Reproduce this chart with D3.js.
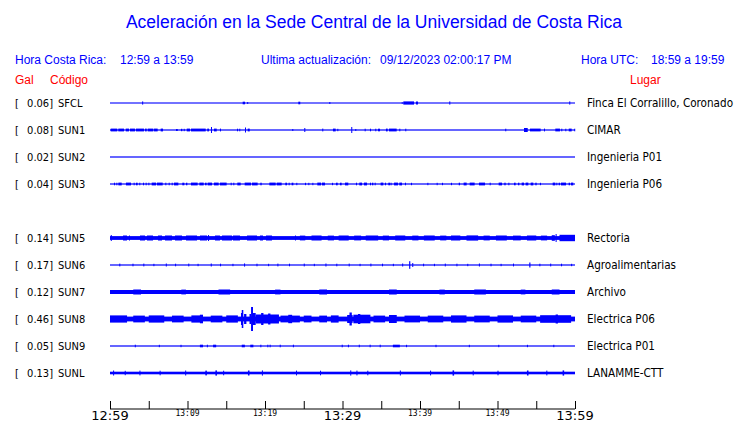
<!DOCTYPE html>
<html><head><meta charset="utf-8">
<script src="https://cdn.jsdelivr.net/npm/d3@7"></script>
<style>
body{margin:0;background:#fff;}
svg{display:block;}
</style></head>
<body>
<svg id="c" width="740" height="423"></svg>
<script>
// ---------------- DATA ----------------
const title = "Aceleración en la Sede Central de la Universidad de Costa Rica";
const horaCR = "12:59 a 13:59";
const horaUTC = "18:59 a 19:59";
const ultima = "09/12/2023 02:00:17 PM";

const codes  = ["SFCL","SUN1","SUN2","SUN3","SUN5","SUN6","SUN7","SUN8","SUN9","SUNL"];
const gal    = [0.06, 0.08, 0.02, 0.04, 0.14, 0.17, 0.12, 0.46, 0.05, 0.13];
const places = ["Finca El Corralillo, Coronado","CIMAR","Ingenieria P01","Ingenieria P06",
                "Rectoria","Agroalimentarias","Archivo","Electrica P06","Electrica P01","LANAMME-CTT"];
const slots  = [0,1,2,3,5,6,7,8,9,10];

// time axis (minutes after 12:59)
const tickMinutes = [0,5,10,15,20,25,30,35,40,45,50,55,60];
const labelMinutes = [0,10,20,30,40,50,60];
const tickLabels = ["12:59","13:09","13:19","13:29","13:39","13:49","13:59"];
const majorLabel = [true,false,false,true,false,false,true];

// continuous noise level of each trace (px half-height)
const baseAmp = [0.55, 0.6, 0.6, 0.6, 1.9, 0.6, 2.0, 2.4, 0.6, 1.3];

// bursts: [start minute, end minute, half amplitude]
const bSFCL = [[4.15,4.2,1.6],[17.12,17.42,1.3],[17.7,17.75,1],[24.3,24.55,1.3],[28.3,28.35,1],
  [37.64,37.68,0.8],[37.85,39.23,1.6],[39.48,39.74,1.5],[43.78,43.83,1.6],[59.26,59.31,1.6]];
const bSUN1 = [[0.09,0.94,1.4],[1.07,1.81,1.4],[2.03,2.45,1.4],[2.58,3.23,1.4],[3.35,4.39,1.4],
  [4.52,4.74,1.4],[4.86,5.59,1.4],[5.68,6.15,1.4],[6.54,6.84,1.4],[8.52,8.74,1],[9.16,9.33,1.2],
  [9.51,9.59,1.2],[9.9,10.32,1.4],[10.45,12.35,1.4],[12.55,12.77,1.4],[13.03,13.1,3],[13.42,13.77,1.4],
  [14.19,14.25,1.4],[16.39,16.45,1.3],[16.68,16.74,1.3],[17.42,17.48,2.5],[17.77,18.03,1.4],
  [23.52,23.57,1],[25.07,25.12,2],[27.39,27.44,1.4],[28.77,29.12,1.4],[29.33,29.38,1.2],
  [31.13,31.18,3],[31.65,31.7,1],[32.86,32.99,1.3],[33.55,33.6,1.3],[34.23,34.28,1.3],
  [34.58,34.84,1.3],[35.61,35.83,1.4],[36.0,36.99,1.4],[37.33,37.38,1.3],[38.1,38.15,1.3],
  [51.0,51.05,1.3],[53.42,53.9,2],[54.19,55.57,1.4],[56.0,56.05,1.4],[57.46,58.06,1.4],
  [58.23,58.28,1.3],[58.75,58.8,1.3],[59.19,59.57,1.4],[59.9,59.95,1.3]];
const bSUN2 = [];
const bSUN3 = [[0.52,0.65,1.3],[0.82,0.9,1.3],[1.08,1.51,1.4],[2.06,2.71,1.4],[3.05,3.18,1.3],
  [3.35,3.57,1.3],[3.78,3.87,1.3],[4.26,4.39,1.3],[4.6,4.69,1.3],[4.95,5.08,1.3],[5.38,5.94,1.4],
  [6.06,6.8,1.4],[7.14,7.27,1.3],[7.57,7.7,1.3],[7.96,8.09,1.3],[8.26,8.82,1.4],[9.33,9.59,1.3],
  [9.81,9.98,1.3],[10.45,11.31,1.4],[11.53,12.09,1.4],[12.26,12.47,1.3],[12.6,13.16,1.4],
  [13.42,14.02,1.4],[14.19,15.05,1.4],[15.57,15.7,1.3],[15.91,16.04,1.3],[16.43,16.86,1.4],
  [17.38,18.19,1.4],[18.32,19.05,1.4],[19.4,19.57,1.3],[20.56,21.38,1.4],[21.51,22.15,1.4],
  [22.62,22.84,1.3],[23.05,23.18,1.3],[23.44,23.66,1.3],[24.04,24.08,1.2],[25.16,25.2,1.2],
  [25.59,25.63,1.2],[26.11,26.15,1.2],[26.75,27.23,1.4],[27.35,27.74,1.4],[28.65,28.69,1.2],
  [29.16,29.38,1.3],[29.68,29.89,1.3],[30.32,30.75,1.4],[31.74,31.87,1.3],[32.17,32.52,1.4],
  [32.77,33.16,1.4],[33.55,33.68,1.3],[33.81,33.98,1.3],[34.15,34.28,1.3],[34.92,35.27,1.4],
  [35.48,35.57,1.3],[35.91,36.13,1.3],[36.2,36.24,1.3],[36.65,37.16,1.4],[37.33,37.68,1.4],
  [38.06,38.15,1.3],[38.84,38.88,1.2],[40.95,40.99,1.2],[42.15,42.19,1.2],[42.84,42.88,1.2],
  [44.0,44.04,1.2],[45.0,45.16,1.3],[45.63,46.02,1.4],[46.41,47.05,1.4],[47.61,48.39,1.4],
  [48.99,49.12,1.3],[50.15,50.58,1.4],[50.88,51.05,1.3],[51.4,51.53,1.3],[52.13,52.34,1.3],
  [52.65,52.82,1.3],[53.12,53.42,1.4],[53.63,53.98,1.4],[54.28,54.62,1.4],[54.88,55.05,1.3],
  [55.48,55.52,1.2],[57.12,57.46,1.4],[57.59,57.72,1.3],[57.89,58.06,1.3],[58.19,58.84,1.4],
  [59.18,59.35,1.3],[59.48,59.78,1.4]];
const bSUN5 = [[0.1,0.2,3],[1.68,2.19,2.5],[2.45,2.5,2.5],[3.87,4.52,2.5],[4.77,5.55,2.5],
  [6.19,6.71,2.5],[7.1,8.0,2.5],[8.39,9.29,2.5],[9.81,11.23,2.5],[11.61,12.52,2.5],[12.65,12.7,3],
  [13.55,14.19,2.5],[14.45,15.74,2.5],[15.87,16.77,2.5],[17.68,18.97,2.5],[19.35,19.74,2.5],
  [20.13,20.9,2.5],[23.87,23.92,2.5],[24.5,25.2,2.4],[26.0,27.3,2.5],[28.1,28.9,2.4],[29.5,30.8,2.5],
  [31.5,32.4,2.4],[33.0,34.6,2.5],[35.2,36.0,2.4],[36.8,38.1,2.5],[39.0,39.8,2.4],[40.5,41.9,2.5],
  [42.6,43.4,2.4],[44.0,45.2,2.5],[46.0,47.5,2.6],[48.2,49.0,2.4],[49.8,51.2,2.5],[52.0,53.0,2.4],
  [53.8,55.0,2.5],[55.6,56.4,2.4],[57.0,57.4,2.8],[57.5,57.6,4],[58.0,60,3.2]];
const bSUN6 = [[1.2,1.25,1.4],[2.9,2.95,1.3],[4.3,4.35,1.4],[5.6,5.65,1.2],[7.2,7.3,1.5],[8.4,8.45,1.3],
  [10.1,10.2,1.4],[11.3,11.35,1.2],[13.0,13.1,1.5],[14.2,14.25,1.3],[15.8,15.85,1.2],[17.3,17.4,1.6],
  [18.9,18.95,1.3],[20.4,20.45,1.2],[21.6,21.7,1.4],[23.1,23.15,1.3],[25.0,25.05,1.4],[26.3,26.35,1.2],
  [27.8,27.9,1.5],[29.2,29.25,1.3],[30.8,30.85,1.4],[32.2,32.25,1.2],[33.6,33.7,1.4],[35.1,35.15,1.3],
  [36.5,36.55,1.2],[37.7,37.8,1.5],[38.6,38.75,3.8],[39.0,39.1,2],[40.4,40.45,1.3],[41.8,41.85,1.2],
  [43.2,43.3,1.4],[44.7,44.75,1.3],[46.1,46.15,1.2],[47.6,47.7,1.5],[49.1,49.15,1.3],[50.4,50.45,1.2],
  [52.0,52.05,1.4],[54.1,54.25,2.5],[55.4,55.45,1.3],[56.8,56.9,1.4],[58.2,58.25,1.3],[59.5,59.55,1.2]];
const bSUN7 = [[3.0,4.0,2.5],[9.2,9.8,2.4],[14.0,15.5,2.5],[21.3,22.0,2.4],[27.0,28.0,2.5],
  [36.0,37.0,2.5],[42.5,43.2,2.4],[47.0,48.5,2.5],[53.0,53.6,2.4],[57.0,58.0,2.5]];
const bSUN8 = [[0,2.2,3.6],[3.0,4.5,3.4],[5.0,7.0,3.6],[8.0,9.5,3.4],[10.5,12.0,3.6],[11.6,12.0,4.3],
  [13.0,14.5,3.4],[15.0,16.5,3.6],[16.9,17.1,6],[17.0,17.2,9],[17.3,17.6,5],[18.0,18.2,5],
  [18.2,18.45,12],[18.45,18.8,6],[18.8,21.8,4.5],[19.5,19.8,6],[20.4,20.7,5.5],[22.0,24.5,3.4],
  [23.0,23.5,4.2],[25.0,26.0,3.4],[27.0,28.0,3.4],[28.5,29.5,3.6],[30.6,31.3,4],[30.9,31.2,6.5],
  [31.4,33.6,4.3],[32.0,32.3,5],[34.0,35.5,3.4],[36.0,37.0,4],[38.0,40.0,3.4],[41.0,43.0,3.4],
  [44.0,46.0,3.6],[47.0,49.0,3.4],[50.0,52.0,3.6],[53.0,55.0,3.4],[55.5,59.5,3.8],[57.5,57.8,4.5]];
const bSUN9 = [[3.2,3.25,1.3],[6.3,6.35,1.2],[9.1,9.15,1.2],[11.6,12.0,1.3],[12.5,12.6,1.3],[13.3,13.7,1.3],
  [17.0,17.4,1.3],[18.1,18.5,1.3],[19.4,19.45,1.3],[20.3,20.35,1.3],[20.6,20.65,1.3],[21.9,21.95,1.3],
  [23.6,23.65,1.3],[29.9,29.95,1.3],[30.7,30.75,1.3],[32.1,32.15,1.3],[33.5,33.55,1.3],[34.8,34.85,1.3],
  [36.5,37.4,1.3],[38.2,38.25,1.2],[42.0,42.05,1.2],[46.3,46.35,1.2],[50.1,50.15,1.2],[53.8,53.85,1.2],
  [57.2,57.25,1.2]];
const bSUNL = [[0.4,0.5,2.5],[1.9,2.0,2.2],[3.8,3.9,2.4],[6.4,6.5,2.3],[9.7,9.8,2.5],[12.3,12.5,2.4],
  [13.6,13.8,2.6],[14.6,14.7,2.3],[17.8,18.0,2.5],[19.6,19.7,2.6],[24.0,24.1,2.4],[27.1,27.2,2.3],
  [31.0,31.1,2.6],[31.8,31.9,2.4],[33.2,33.3,2.3],[37.4,37.5,2.5],[41.3,41.4,2.4],[44.2,44.4,2.6],
  [46.8,46.9,2.4],[50.0,50.1,2.3],[53.8,54.0,2.5],[56.3,56.4,2.4],[58.4,58.6,2.6]];
const bursts = [bSFCL,bSUN1,bSUN2,bSUN3,bSUN5,bSUN6,bSUN7,bSUN8,bSUN9,bSUNL];

// ---------------- DRAW ----------------
const svg = d3.select("#c");
const blue = "#0000ff", red = "#ff0000";
const sans = "'Liberation Sans', Arial, sans-serif";
const dv = "'DejaVu Sans', sans-serif";

const x = d3.scaleLinear().domain([0,60]).range([110,575]);
const y = d3.scaleLinear().domain([0,10]).range([103,373]);

svg.append("text").attr("x",374).attr("y",28).attr("text-anchor","middle")
  .attr("font-family",sans).attr("font-size",17.5).attr("fill",blue).text(title);

const hdr = [[15,"Hora Costa Rica:"],[120,horaCR],[261,"Ultima actualización:"],[380,ultima],
             [581,"Hora UTC:"],[651,horaUTC]];
svg.selectAll("text.h").data(hdr).join("text").attr("class","h")
  .attr("x",d=>d[0]).attr("y",64).attr("font-family",sans).attr("font-size",12)
  .attr("fill",blue).text(d=>d[1]);

[[15,"Gal"],[50,"Código"],[630,"Lugar"]].forEach(d=>{
  svg.append("text").attr("x",d[0]).attr("y",83.5).attr("font-family",sans)
    .attr("font-size",12).attr("fill",red).text(d[1]);
});

const rows = svg.append("g");
codes.forEach((c,i)=>{
  const yc = y(slots[i]);
  const g = rows.append("g");
  g.append("text").attr("x",15).attr("y",yc+4).attr("font-family",dv).attr("font-size",11)
    .attr("font-stretch","condensed").text("[");
  g.append("text").attr("x",53).attr("y",yc+4).attr("text-anchor","end").attr("font-family",dv)
    .attr("font-size",11).attr("font-stretch","condensed").text(gal[i].toFixed(2)+"]");
  g.append("text").attr("x",58).attr("y",yc+4).attr("font-family",dv).attr("font-size",11)
    .attr("font-stretch","condensed").text(c);
  g.append("text").attr("x",587).attr("y",yc+4).attr("font-family",dv).attr("font-size",11.6)
    .attr("font-stretch","condensed").text(places[i]);
  // baseline noise
  g.append("rect").attr("x",x(0)).attr("width",x(60)-x(0))
    .attr("y",yc-baseAmp[i]).attr("height",2*baseAmp[i]).attr("fill",blue);
  g.selectAll("rect.b").data(bursts[i]).join("rect").attr("class","b")
    .attr("x",d=>x(d[0])).attr("width",d=>Math.max(1,x(d[1])-x(d[0])))
    .attr("y",d=>yc-d[2]).attr("height",d=>2*d[2]).attr("fill",blue);
});

// axis
const ax = svg.append("g").attr("transform","translate(0,409)");
ax.call(d3.axisTop(x).tickValues(tickMinutes).tickSize(8).tickFormat(""));
ax.select(".domain").attr("d",`M${x(0)},0H${x(60)}`).attr("stroke","#000");
ax.selectAll(".tick line").attr("stroke","#000");
labelMinutes.forEach((m,i)=>{
  svg.append("text").attr("x",x(m)).attr("y",majorLabel[i]?420:416)
    .attr("text-anchor","middle")
    .attr("font-family",majorLabel[i]?dv:"'DejaVu Sans Mono', monospace")
    .attr("font-size",majorLabel[i]?13:8).text(tickLabels[i]);
});
</script>
</body></html>
